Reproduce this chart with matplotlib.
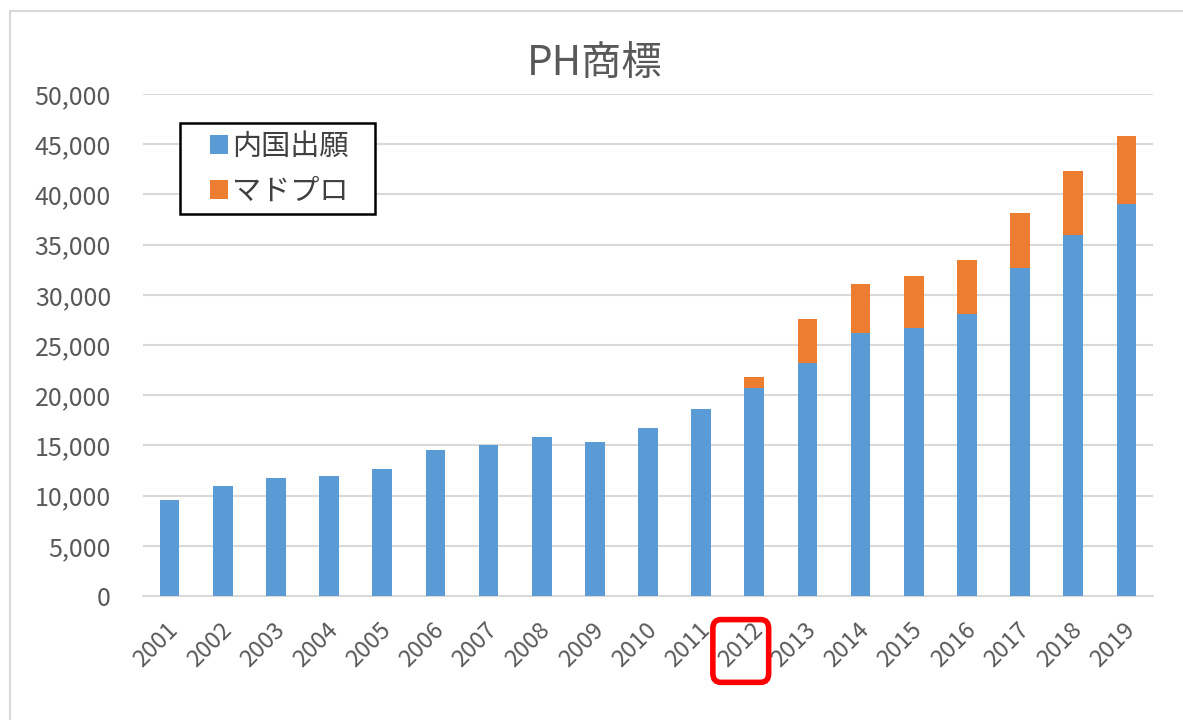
import matplotlib.pyplot as plt
import numpy as np
from matplotlib.patches import FancyBboxPatch, Rectangle
from matplotlib.transforms import blended_transform_factory, ScaledTranslation
from matplotlib.ticker import FuncFormatter

plt.rcParams['font.family'] = ['Noto Sans CJK JP', 'DejaVu Sans']

years = [str(y) for y in range(2001, 2020)]
domestic = [9600, 11000, 11800, 12000, 12600, 14500, 15000, 15800, 15300, 16700,
            18600, 20700, 23200, 26200, 26700, 28100, 32700, 36000, 39000]
madrid = [0, 0, 0, 0, 0, 0, 0, 0, 0, 0,
          0, 1100, 4400, 4900, 5200, 5400, 5400, 6300, 6800]

W, H = 1183, 720
fig = plt.figure(figsize=(W / 100, H / 100), dpi=100)
ax = fig.add_axes([143 / W, 1 - 596 / H, (1153 - 143) / W, (596 - 94) / H])

# outer chart frame
fig.patches.append(Rectangle((10 / W, -0.1), 1.2, 1 - 11 / H + 0.1,
                             transform=fig.transFigure, fill=False,
                             edgecolor='#d9d9d9', lw=1.5))

x = np.arange(len(years))
ax.bar(x, domestic, width=0.37, color='#5B9BD5', label='内国出願', zorder=3)
ax.bar(x, madrid, width=0.37, bottom=domestic, color='#ED7D31', label='マドプロ', zorder=3)

ax.set_xlim(-0.5, len(years) - 0.5)
ax.set_ylim(0, 50000)
ax.set_yticks(range(0, 50001, 5000))
ax.yaxis.set_major_formatter(FuncFormatter(lambda v, p: f'{int(v):,}'))
ax.grid(axis='y', color='#d9d9d9', lw=1.5, zorder=0)
for s in ['top', 'right', 'left']:
    ax.spines[s].set_visible(False)
ax.spines['bottom'].set_color('#d9d9d9')
ax.spines['bottom'].set_linewidth(1.5)
ax.tick_params(axis='both', length=0, colors='#595959')
ax.tick_params(axis='y', pad=23, labelsize=18)
ax.set_xticks(x)
ax.set_xticklabels(years, rotation=45, ha='right', rotation_mode='anchor', fontsize=17)
ax.tick_params(axis='x', pad=16)
for lab in ax.get_xticklabels():
    lab.set_transform(lab.get_transform() + ScaledTranslation(-3 / 100, 0, fig.dpi_scale_trans))

fig.text(0.503, 1 - 63 / H, 'PH商標', ha='center', va='center', fontsize=29, color='#595959')

# legend box drawn separately so its padding matches the original
fig.patches.append(Rectangle((180 / W, 1 - 214 / H), 195 / W, 91 / H,
                             transform=fig.transFigure, fill=True, facecolor='white',
                             edgecolor='black', lw=1.8, zorder=4))
leg = fig.legend(loc='upper left', bbox_to_anchor=(210 / W, 1 - 132 / H), fontsize=21,
                 frameon=False, handlelength=0.6, handleheight=0.6,
                 handletextpad=0.15, borderpad=0, labelspacing=0.5,
                 borderaxespad=0)
leg.set_zorder(5)
for t in leg.get_texts():
    t.set_color('#404040')

# red highlight around 2012 label
tr = blended_transform_factory(ax.transData, ax.transAxes)
ax.add_patch(FancyBboxPatch((11 - 0.78, -0.172), 1.05, 0.125,
                            boxstyle='round,pad=0,rounding_size=0.15',
                            transform=tr, fill=False, edgecolor='#ff0000',
                            lw=4, clip_on=False, zorder=5, mutation_aspect=0.12))

fig.savefig('out.png', dpi=100)
